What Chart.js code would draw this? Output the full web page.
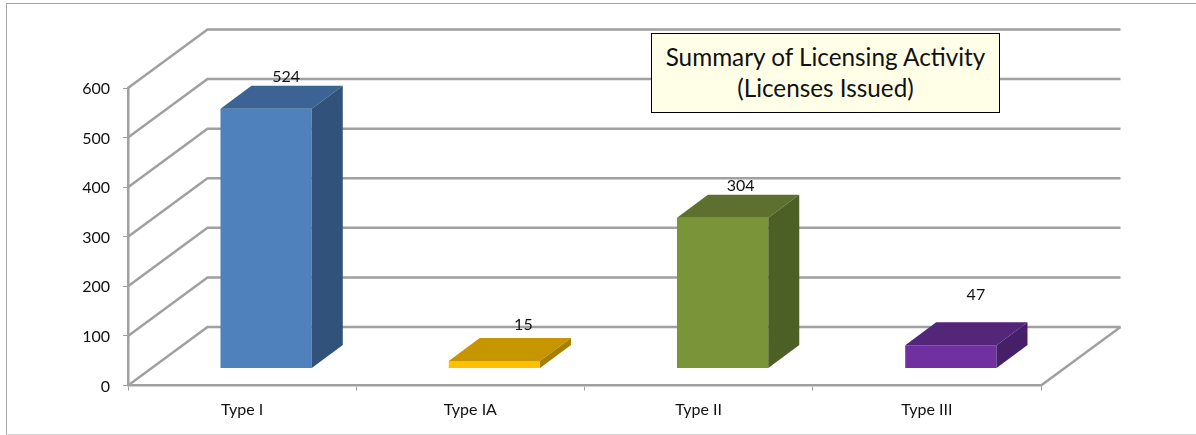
<!DOCTYPE html>
<html>
<head>
<meta charset="utf-8">
<title>Summary of Licensing Activity</title>
<script src="https://cdn.jsdelivr.net/npm/chart.js@4"></script>
<style>
  html, body { margin: 0; background: #fff; overflow: hidden; }
  #wrap { position: relative; width: 1196px; height: 435px; }
  #frame {
    position: absolute; left: 6px; top: 3px; right: 0; bottom: 0;
    border-left: 1px solid #a6a6a6; border-top: 1px solid #a6a6a6; border-bottom: 1px solid #d9d9d9;
  }
  #chart { position: absolute; left: 0; top: 0; }
  #title {
    position: absolute; left: 651px; top: 33px; width: 347px; height: 71px;
    background: #ffffe8; border: 1px solid #000;
    font: 24.3px Lato, sans-serif; line-height: 31px; color: #111; text-align: center;
    padding-top: 7px;
  }
</style>
</head>
<body>
<div id="wrap">
  <div id="frame"></div>
  <canvas id="chart" width="1196" height="435"></canvas>
  <div id="title">Summary of Licensing Activity<br>(Licenses Issued)</div>
</div>
<script>
const categories = ['Type I', 'Type IA', 'Type II', 'Type III'];
const licenses = [524, 15, 304, 47];
const yTicks = [0, 100, 200, 300, 400, 500, 600];

const frontColors = ['#4f81bd', '#ffc000', '#7a9539', '#7030a0'];
const topColors = ['#3b6494', '#c69500', '#5d7030', '#53267a'];
const sideColors = ['#31527a', '#a67f00', '#4c6025', '#451f69'];

// hand placed labels in the original, offset from top centre of the front face
const labelNudge = [[20, -32], [29, -36], [18, -32], [25, -50]];

const gridColor = '#a0a0a0';
const wall = { dx: 79.5, dy: 58.5 }; // floor depth
const shift = { dx: 24, dy: -17 }; // bars stand inside the floor
const side = { dx: 31, dy: 23 }; // bar depth

function poly(ctx, pts, color) {
  ctx.fillStyle = color;
  ctx.beginPath();
  pts.forEach((p, i) => (i ? ctx.lineTo(p[0], p[1]) : ctx.moveTo(p[0], p[1])));
  ctx.closePath();
  ctx.fill();
}

const fake3d = {
  id: 'fake3d',
  beforeDatasetsDraw(chart) {
    const { ctx, chartArea, scales } = chart;
    ctx.save();
    ctx.strokeStyle = gridColor;
    ctx.lineWidth = 2.5;
    // walls, one line per y tick
    yTicks.forEach((t) => {
      const y = scales.y.getPixelForValue(t);
      ctx.beginPath();
      ctx.moveTo(chartArea.left, y);
      ctx.lineTo(chartArea.left + wall.dx, y - wall.dy);
      ctx.lineTo(chartArea.right + wall.dx, y - wall.dy);
      ctx.stroke();
    });
    // right edge of the floor
    const y0 = scales.y.getPixelForValue(0);
    ctx.beginPath();
    ctx.moveTo(chartArea.right, y0);
    ctx.lineTo(chartArea.right + wall.dx, y0 - wall.dy);
    ctx.stroke();
    ctx.restore();
    // bars get drawn by the library inside this shift
    ctx.save();
    ctx.translate(shift.dx, shift.dy);
  },
  afterDatasetsDraw(chart) {
    const { ctx } = chart;
    const bars = chart.getDatasetMeta(0).data;
    bars.forEach((bar, i) => {
      const p = bar.getProps(['x', 'y', 'base', 'width'], true);
      const l = p.x - p.width / 2;
      const r = p.x + p.width / 2;
      poly(ctx, [[l, p.y], [r, p.y], [r + side.dx, p.y - side.dy], [l + side.dx, p.y - side.dy]], topColors[i]);
      poly(ctx, [[r, p.y], [r + side.dx, p.y - side.dy], [r + side.dx, p.base - side.dy], [r, p.base]], sideColors[i]);
    });
    ctx.restore();
    ctx.save();
    ctx.fillStyle = '#111';
    ctx.font = '16px Lato, sans-serif';
    ctx.textAlign = 'center';
    ctx.textBaseline = 'middle';
    bars.forEach((bar, i) => {
      const p = bar.getProps(['x', 'y'], true);
      ctx.fillText(String(licenses[i]), p.x + shift.dx + labelNudge[i][0], p.y + shift.dy + labelNudge[i][1]);
    });
    ctx.restore();
  },
};

new Chart(document.getElementById('chart').getContext('2d'), {
  type: 'bar',
  data: {
    labels: categories,
    datasets: [{
      data: licenses,
      backgroundColor: frontColors,
      borderWidth: 0,
      barPercentage: 0.4,
      categoryPercentage: 1,
    }],
  },
  plugins: [fake3d],
  options: {
    responsive: false,
    animation: false,
    layout: { padding: { top: 88, right: 155, bottom: 0, left: 0 } },
    plugins: { legend: { display: false }, tooltip: { enabled: false } },
    scales: {
      x: {
        afterFit: (s) => { s.height = 49.5; },
        border: { color: gridColor, width: 2.5 },
        grid: { drawOnChartArea: false, color: gridColor, tickLength: 5, lineWidth: 1 },
        ticks: { color: '#111', font: { family: 'Lato', size: 16 }, padding: 10, maxRotation: 0 },
      },
      y: {
        min: 0,
        max: 600,
        afterFit: (s) => { s.width = 128; },
        afterBuildTicks: (s) => { s.ticks = yTicks.map((v) => ({ value: v })); },
        border: { color: gridColor, width: 2.5 },
        grid: { drawOnChartArea: false, color: gridColor, tickLength: 5, lineWidth: 1 },
        ticks: { color: '#111', font: { family: 'Lato', size: 16 }, padding: 13, labelOffset: 1 },
      },
    },
  },
});
</script>
</body>
</html>
